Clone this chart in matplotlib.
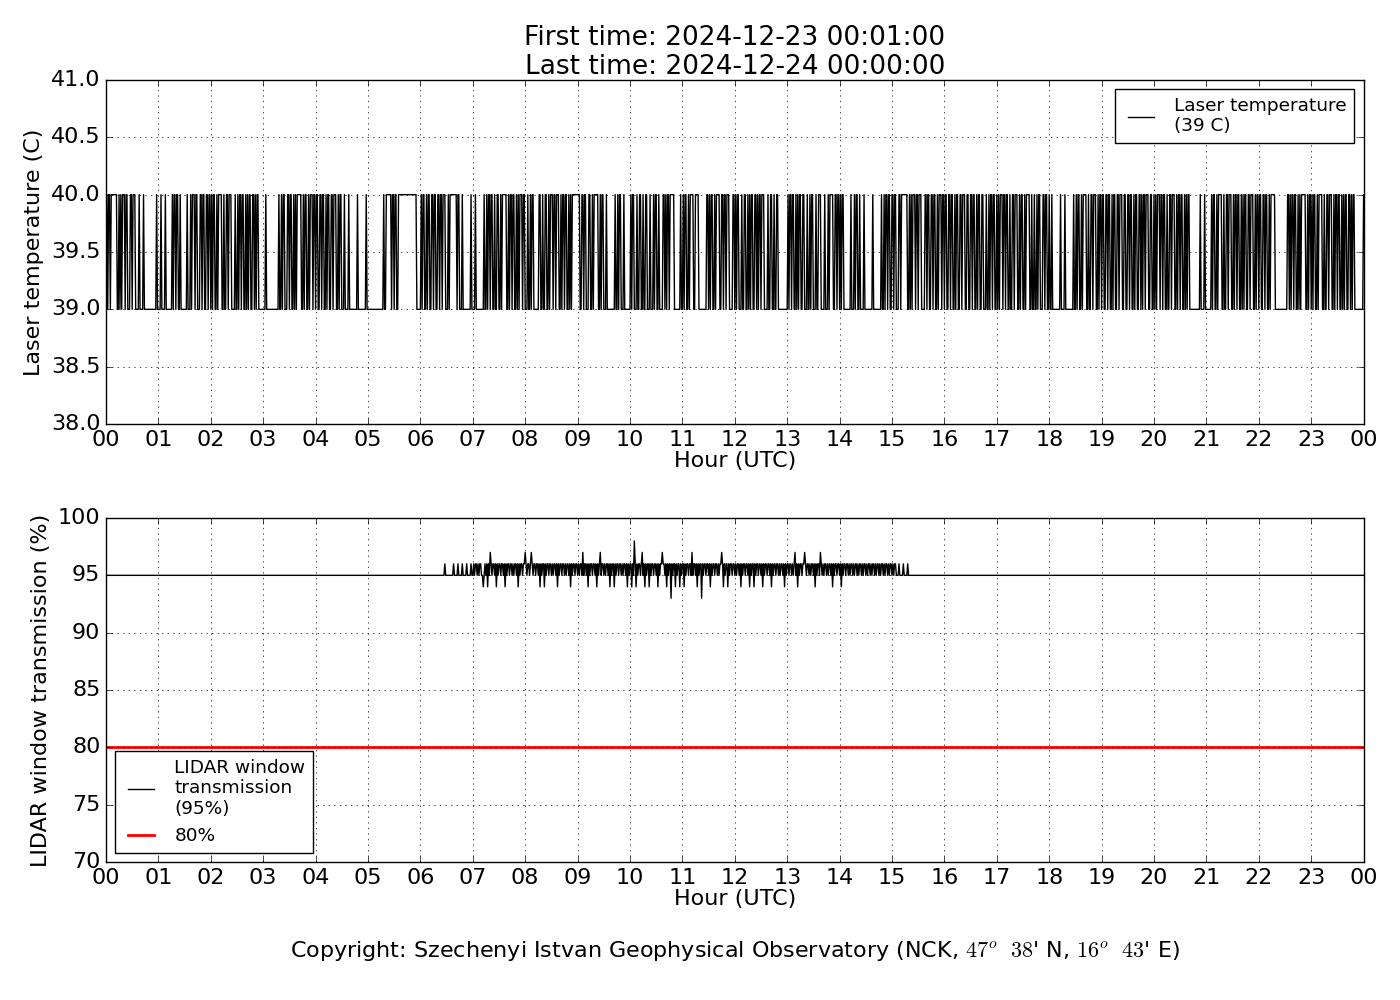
import numpy as np
import matplotlib
matplotlib.use("Agg")
from matplotlib import pyplot as plt

# Laser temperature, one code per 5 minutes, one string per hour
# 0 = 39 C, 1 = 40 C, x/a/b/c/d = switching, s = short jump to 40, r = rises at end
laser_codes = [
    "x1abxcdss00s", "ss0xa0sbxcax", "xbacdsxabcx0", "s00sxcabdxbx",
    "axbcdxss0s0s", "000s1xa11110", "xbcaxdb1xs0s", "s0sxacbdxabx",
    "sx0acbxdxab1", "axcbdxs0sxs0", "xsacsbscx10s", "xbad0cxbaxdc",
    "xsabcxdsac00", "xabcsxsdsbax", "x0sbss0s0sxa", "xc1abxdcaxbx",
    "axbcdaxbcsxa", "bxacdxbasxca", "s0ss0sxbacdx", "axbcdaxbcxda",
    "bxacdxab00ss", "0xbacdxabcdx", "axbd00cxabdx", "xbacdxabcx0r",
]
laser_blocks = {
    "0": [39, 39, 39, 39, 39],
    "1": [40, 40, 40, 40, 40],
    "x": [40, 39, 40, 40, 39],
    "a": [40, 40, 39, 39, 40],
    "b": [39, 40, 39, 40, 40],
    "c": [39, 39, 40, 40, 39],
    "d": [40, 40, 40, 39, 39],
    "s": [39, 39, 40, 39, 39],
    "r": [39, 39, 39, 39, 40],
}

# LIDAR window transmission, 5 minute codes from 06:00 to 16:00, 95 % elsewhere
lidar_start_hour = 6
lidar_codes = [
    "55555u5uuuuu", "wwnmwmwmwwmw", "wmwmmwwmwwmw", "wwmwmwwmmwwm",
    "mmwmmwmwmmmm", "mwwmmwmwwmmw", "wmwmmwmwmwwm", "wwmwwwmwwwmw",
    "mwwwwwwwwwww", "wuuu55555555",
]
lidar_blocks = {
    "5": [95, 95, 95, 95, 95],
    "u": [95, 95, 96, 95, 95],
    "w": [96, 95, 96, 96, 95],
    "m": [96, 94, 96, 95, 96],
    "n": [95, 94, 95, 96, 95],
}
# single peaks and dips (hour, %)
lidar_peaks_h = [7.33, 8.00, 8.11, 9.10, 9.43, 10.08, 10.23, 10.61, 10.78,
                 11.18, 11.37, 11.75, 13.15, 13.34, 13.63]
lidar_peaks_v = [97, 97, 97, 97, 97, 98, 97, 97, 93,
                 97, 93, 97, 97, 97, 97]

laser = []
for c in "".join(laser_codes):
    laser += laser_blocks[c]
laser = np.array(laser, dtype=float)
minutes = np.arange(1, len(laser) + 1)
hours = minutes / 60.0

lidar = np.full(len(laser), 95.0)
seg = []
for c in "".join(lidar_codes):
    seg += lidar_blocks[c]
i0 = lidar_start_hour * 60
lidar[i0:i0 + len(seg)] = seg
for h, v in zip(lidar_peaks_h, lidar_peaks_v):
    lidar[int(round(h * 60)) - 1] = v

plt.style.use("classic")
plt.rcParams["figure.facecolor"] = "white"
plt.rcParams["savefig.facecolor"] = "white"
plt.rcParams["font.size"] = 16

fig = plt.figure(figsize=(14, 10), dpi=100)
ax1 = fig.add_axes([0.0757, 0.576, 0.8983, 0.344])
ax2 = fig.add_axes([0.0757, 0.138, 0.8983, 0.344])

hour_ticks = np.arange(0, 25)
hour_labels = ["%02d" % (h % 24) for h in hour_ticks]

ax1.plot(hours, laser, "k-", lw=1, label="Laser temperature\n(39 C)")
ax1.set_ylim(38, 41)
ax1.set_yticks(np.arange(38, 41.01, 0.5))
ax1.set_yticklabels(["%.1f" % v for v in np.arange(38, 41.01, 0.5)])
ax1.set_ylabel("Laser temperature (C)")
ax1.set_title("First time: 2024-12-23 00:01:00\nLast time: 2024-12-24 00:00:00",
              fontsize=19, linespacing=1.15, pad=4)
ax1.legend(loc="upper right", fontsize=13.3)

ax2.plot(hours, lidar, "k-", lw=1, label="LIDAR window\ntransmission\n(95%)")
ax2.axhline(80, color="red", lw=2, label="80%")
ax2.set_ylim(70, 100)
ax2.set_yticks(np.arange(70, 101, 5))
ax2.set_ylabel("LIDAR window transmission (%)")
ax2.legend(loc="lower left", fontsize=13.3)

for ax in (ax1, ax2):
    ax.set_xlim(0, 24)
    ax.set_xticks(hour_ticks)
    ax.set_xticklabels(hour_labels)
    ax.set_xlabel("Hour (UTC)", labelpad=1)
    ax.grid(True, color="k", linestyle=":")
    ax.set_axisbelow(False)
    ax.tick_params(labelsize=16)

fig.text(0.525, 0.049,
         r"Copyright: Szechenyi Istvan Geophysical Observatory (NCK, $47^o\ \ 38$' N, $16^o\ \ 43$' E)",
         ha="center", va="center", fontsize=16)

fig.savefig("out.png", dpi=100)
